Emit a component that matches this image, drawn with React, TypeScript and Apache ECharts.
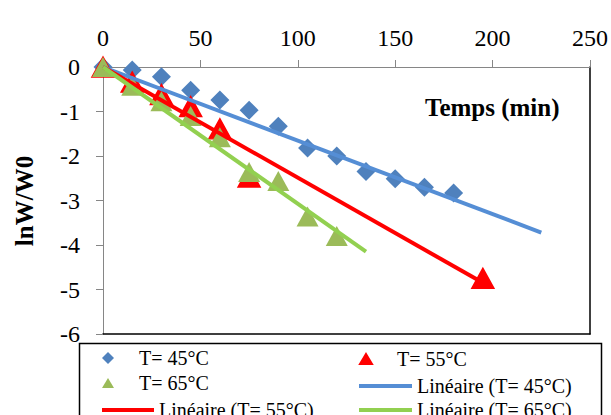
import React, { useEffect, useRef } from "react";
import * as echarts from "echarts";

// Temps (min)
const t45 = [0, 15, 30, 45, 60, 75, 90, 105, 120, 135, 150, 165, 180];
const y45 = [0, -0.07, -0.22, -0.52, -0.74, -0.97, -1.33, -1.82, -2.0, -2.35, -2.51, -2.7, -2.83];
const t55 = [0, 15, 30, 45, 60, 75, 195];
const y55 = [0, -0.34, -0.62, -0.89, -1.39, -2.47, -4.75];
const t65 = [0, 15, 30, 45, 60, 75, 90, 105, 120];
const y65 = [0, -0.42, -0.77, -1.1, -1.58, -2.36, -2.56, -3.36, -3.8];
// Trend lines (read endpoints)
const lin45 = [[0, 0], [225, -3.72]];
const lin55 = [[0, 0], [195, -4.85]];
const lin65 = [[0, 0], [135, -4.15]];

const xTicks = { min: 0, max: 250, interval: 50 };
const yTicks = { min: -6, max: 0, interval: 1 };

const names = [
  "T= 45°C",
  "T= 55°C",
  "T= 65°C",
  "Linéaire (T= 45°C)",
  "Linéaire (T= 55°C)",
  "Linéaire (T= 65°C)",
];

const FONT = "Liberation Serif";
const GRAY = "#868686";

const zip = (a: number[], b: number[]) => a.map((v, i) => [v, b[i]]);

export default function App() {
  const ref = useRef<HTMLDivElement>(null);
  useEffect(() => {
    if (!ref.current) return;
    const chart = echarts.init(ref.current, null, { renderer: "svg" });
    const diamondIcon = "path://M6,0 L12,6 L6,12 L0,6 Z";
    const triIcon = "path://M6,0 L12,10 L0,10 Z";
    const rowC = [354, 378, 402];
    const legendItem = (name: string, left: number, row: number, icon: string, h: number, w = 52) => ({
      data: [name],
      left,
      top: rowC[row] - h / 2,
      padding: 0,
      icon,
      itemWidth: w,
      itemHeight: h,
      selectedMode: false,
      textStyle: { fontFamily: FONT, fontSize: 20, color: "#000", lineHeight: 20 },
    });
    const axisLabel = (margin: number) => ({
      margin,
      fontFamily: FONT,
      fontSize: 24,
      color: "#000",
    });
    chart.setOption({
      animation: false,
      backgroundColor: "#fff",
      textStyle: { fontFamily: FONT },
      grid: { left: 103, top: 67, width: 487, height: 267, containLabel: false, outerBoundsMode: "none" },
      xAxis: [
        {
          type: "value",
          position: "top",
          ...xTicks,
          axisLine: { show: true, onZero: false, lineStyle: { color: GRAY, width: 1 } },
          axisTick: { show: true, length: 7, lineStyle: { color: GRAY } },
          axisLabel: axisLabel(17),
          splitLine: { show: false },
        },
        {
          type: "value",
          position: "bottom",
          ...xTicks,
          axisLine: { show: true, onZero: false, lineStyle: { color: "#000", width: 1.5 } },
          axisTick: { show: false },
          axisLabel: { show: false },
          splitLine: { show: false },
        },
      ],
      yAxis: [
        {
          type: "value",
          position: "left",
          ...yTicks,
          axisLine: { show: true, onZero: false, lineStyle: { color: GRAY, width: 1 } },
          axisTick: { show: true, length: 7, lineStyle: { color: GRAY } },
          axisLabel: axisLabel(23),
          splitLine: { show: false },
        },
        {
          type: "value",
          position: "right",
          ...yTicks,
          axisLine: { show: true, onZero: false, lineStyle: { color: "#000", width: 1.5 } },
          axisTick: { show: false },
          axisLabel: { show: false },
          splitLine: { show: false },
        },
      ],
      legend: [
        legendItem(names[0], 102, 0, diamondIcon, 12),
        legendItem(names[1], 359, 0, triIcon, 10),
        legendItem(names[2], 102, 1, triIcon, 10),
        legendItem(names[3], 359, 1, "rect", 4, 53),
        legendItem(names[4], 102, 2, "rect", 4, 52),
        legendItem(names[5], 359, 2, "rect", 4, 53),
      ],
      graphic: [
        {
          type: "text",
          left: 425,
          top: 95,
          style: { text: "Temps (min)", fontFamily: FONT, fontSize: 25, fontWeight: "bold", fill: "#000" },
        },
        {
          type: "text",
          x: 24,
          y: 201,
          rotation: Math.PI / 2,
          style: {
            text: "lnW/W0",
            fontFamily: FONT,
            fontSize: 25,
            fontWeight: "bold",
            fill: "#000",
            align: "center",
            verticalAlign: "middle",
          },
        },
        {
          type: "rect",
          shape: { x: 79.5, y: 343.5, width: 522, height: 100 },
          style: { fill: "none", stroke: "#000", lineWidth: 1.5 },
          z: -1,
        },
      ],
      series: [
        {
          name: names[0],
          type: "scatter",
          data: zip(t45, y45),
          symbol: "diamond",
          symbolSize: 19,
          itemStyle: { color: "#4F81BD", opacity: 1 },
          clip: false,
          z: 2,
        },
        {
          name: names[1],
          type: "scatter",
          data: zip(t55, y55),
          symbol: "triangle",
          symbolSize: [22, 20],
          itemStyle: { color: "#FF0000", borderColor: "#FF0000", borderWidth: 1.5, opacity: 1 },
          clip: false,
          z: 3,
        },
        {
          name: names[2],
          type: "scatter",
          data: zip(t65, y65),
          symbol: "triangle",
          symbolSize: [22, 20],
          itemStyle: { color: "#9BBB59", opacity: 1 },
          clip: false,
          z: 4,
        },
        {
          name: names[3],
          type: "line",
          data: lin45,
          symbol: "none",
          showSymbol: false,
          lineStyle: { color: "#558ED5", width: 4 },
          itemStyle: { color: "#558ED5" },
          z: 5,
        },
        {
          name: names[4],
          type: "line",
          data: lin55,
          symbol: "none",
          showSymbol: false,
          lineStyle: { color: "#FF0000", width: 4 },
          itemStyle: { color: "#FF0000" },
          z: 6,
        },
        {
          name: names[5],
          type: "line",
          data: lin65,
          symbol: "none",
          showSymbol: false,
          lineStyle: { color: "#92D050", width: 4 },
          itemStyle: { color: "#92D050" },
          z: 7,
        },
      ],
    });
    return () => chart.dispose();
  }, []);
  return <div ref={ref} style={{ width: 611, height: 415, position: "absolute", left: 0, top: 0 }} />;
}
